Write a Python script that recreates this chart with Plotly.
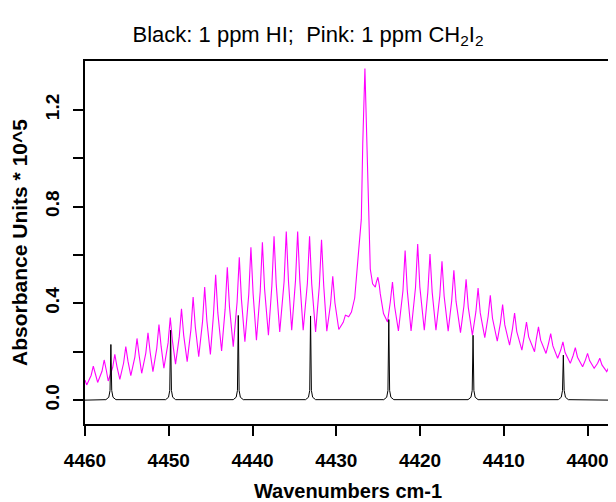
import plotly.graph_objects as go

# ---------------- data ----------------
# Pink trace (1 ppm CH2I2): vertices of the spectrum (wavenumber, absorbance*1e5)
pink_wn = [4460.00, 4459.80, 4459.01, 4458.49, 4457.71, 4457.23, 4456.44, 4455.84,
           4455.13, 4454.53, 4453.79, 4453.23, 4452.48, 4451.89, 4451.17, 4450.58,
           4449.82, 4449.19, 4448.48, 4447.80, 4447.09, 4446.42, 4445.71, 4445.03,
           4444.40, 4443.69, 4443.01, 4442.30, 4441.58, 4440.91, 4440.19, 4439.53,
           4438.82, 4438.10, 4437.43, 4436.75, 4435.97, 4435.32, 4434.61, 4433.95,
           4433.19, 4432.47, 4431.76, 4431.13, 4430.42, 4429.70, 4428.91, 4428.52,
           4428.19, 4427.80, 4427.41, 4427.01, 4426.58, 4426.10, 4425.94, 4425.66,
           4425.34, 4425.03, 4424.75, 4424.36, 4423.88, 4423.29, 4422.58, 4421.78,
           4421.07, 4420.28, 4419.49, 4418.81, 4418.10, 4417.38, 4416.64, 4415.96,
           4415.17, 4414.50, 4413.75, 4413.07, 4412.27, 4411.61, 4410.78, 4410.14,
           4409.31, 4408.71, 4407.84, 4407.29, 4406.33, 4405.86, 4404.96, 4404.40,
           4403.57, 4402.94, 4402.06, 4401.46, 4400.59, 4400.00, 4399.21, 4398.54,
           4397.71, 4397.23]
pink_abs = [0.083, 0.063, 0.141, 0.073, 0.166, 0.079, 0.189, 0.086,
            0.221, 0.101, 0.255, 0.111, 0.278, 0.118, 0.312, 0.132,
            0.341, 0.149, 0.378, 0.159, 0.426, 0.180, 0.467, 0.189,
            0.518, 0.203, 0.549, 0.221, 0.590, 0.241, 0.632, 0.248,
            0.652, 0.268, 0.677, 0.282, 0.697, 0.289, 0.697, 0.289,
            0.677, 0.282, 0.663, 0.285, 0.512, 0.292, 0.351, 0.345,
            0.364, 0.422, 0.584, 0.748, 1.371, 0.690, 0.542, 0.481,
            0.467, 0.508, 0.440, 0.358, 0.323, 0.488, 0.286, 0.618,
            0.286, 0.645, 0.289, 0.604, 0.289, 0.574, 0.285, 0.537,
            0.279, 0.499, 0.268, 0.463, 0.258, 0.433, 0.244, 0.395,
            0.227, 0.360, 0.207, 0.323, 0.200, 0.303, 0.193, 0.275,
            0.173, 0.241, 0.152, 0.217, 0.138, 0.193, 0.132, 0.173,
            0.118, 0.152]

# Black trace (1 ppm HI): sharp lines on a flat baseline
hi_line_wn = [4456.91, 4449.78, 4441.70, 4433.07, 4423.73, 4413.67, 4402.89]
hi_line_abs = [0.230, 0.289, 0.350, 0.348, 0.333, 0.268, 0.186]
hi_span = [4460.0, 4397.2]

x_ticks = [4460, 4450, 4440, 4430, 4420, 4410, 4400]
y_ticks = [0.0, 0.2, 0.4, 0.6, 0.8, 1.0, 1.2]
y_tick_text = ["0.0", "", "0.4", "", "0.8", "", "1.2"]

# ---------------- line-shape rendering (style) ----------------
HALF_W = 0.26      # cm-1, half width of the pink band lines near half height
SHOULDER = 0.5     # fraction of peak-above-valley where the shoulder point sits


def pink_outline(xs, ys):
    ox, oy = [], []
    n = len(xs)
    for i in range(n):
        is_peak = 0 < i < n - 1 and ys[i] > ys[i - 1] and ys[i] > ys[i + 1]
        if is_peak:
            dl = min(HALF_W, 0.6 * abs(xs[i - 1] - xs[i]))
            ox.append(xs[i] + dl)
            oy.append(ys[i - 1] + SHOULDER * (ys[i] - ys[i - 1]))
            ox.append(xs[i])
            oy.append(ys[i])
            dr = min(HALF_W, 0.6 * abs(xs[i + 1] - xs[i]))
            ox.append(xs[i] - dr)
            oy.append(ys[i + 1] + SHOULDER * (ys[i] - ys[i + 1]))
        else:
            ox.append(xs[i])
            oy.append(ys[i])
    return ox, oy


px, py = pink_outline(pink_wn, pink_abs)

# narrow instrument line profile for the HI lines
prof_dx = [0.6, 0.25, 0.1, 0.0, -0.1, -0.25, -0.6]
prof_lvl = [0.002, 0.012, 0.04, None, 0.04, 0.012, 0.002]

bx, by = [hi_span[0]], [0.0]
for c, h in sorted(zip(hi_line_wn, hi_line_abs), reverse=True):
    for dx, lv in zip(prof_dx, prof_lvl):
        bx.append(c + dx)
        by.append(h if lv is None else lv)
bx.append(hi_span[1])
by.append(0.0)

FONT = "Liberation Sans, Arial, sans-serif"
W, H = 608, 494   # page body has an 8 px margin

fig = go.Figure()
fig.add_trace(go.Scatter(x=px, y=py, mode="lines",
                         line=dict(color="#FF00FF", width=1.1), showlegend=False))
fig.add_trace(go.Scatter(x=bx, y=by, mode="lines",
                         line=dict(color="black", width=1), showlegend=False))

fig.update_layout(
    width=W, height=H,
    margin=dict(l=77, r=3, t=53, b=76),
    paper_bgcolor="white", plot_bgcolor="white",
    title=dict(text="Black: 1 ppm HI;\u00a0 Pink: 1 ppm CH<sub>2</sub>I<sub>2</sub>",
               x=300 / W, xref="container", xanchor="center",
               y=1 - 26 / H, yref="container", yanchor="middle",
               font=dict(family=FONT, size=22, color="black")),
    xaxis=dict(range=[4460, 4397.2], tickvals=x_ticks,
               ticktext=[str(v) for v in x_ticks],
               showline=True, linewidth=2, linecolor="black", mirror=True,
               ticks="outside", ticklen=10, tickwidth=2, tickcolor="black",
               showgrid=False, zeroline=False, ticklabelstandoff=8,
               tickfont=dict(family=FONT, size=19, color="black", weight="bold"),
               title=dict(text="Wavenumbers cm-1", standoff=14,
                          font=dict(family=FONT, size=20, color="black", weight="bold"))),
    yaxis=dict(range=[-0.0986, 1.4016], tickvals=y_ticks, ticktext=y_tick_text,
               tickangle=-90,
               showline=True, linewidth=2, linecolor="black", mirror=True,
               ticks="outside", ticklen=10, tickwidth=2, tickcolor="black",
               showgrid=False, zeroline=False, ticklabelstandoff=6,
               tickfont=dict(family=FONT, size=19, color="black", weight="bold"),
               title=dict(text="Absorbance Units * 10^5", standoff=9,
                          font=dict(family=FONT, size=21, color="black", weight="bold"))),
)

fig.write_html("out.html")
